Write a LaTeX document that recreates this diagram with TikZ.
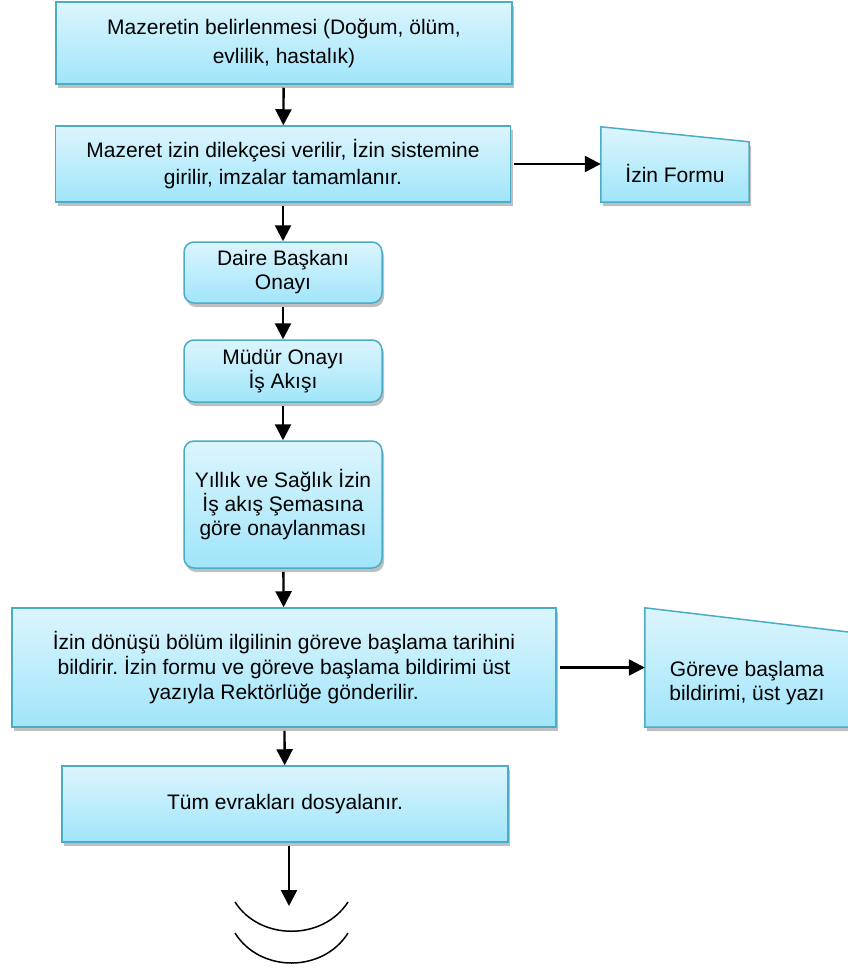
\documentclass[tikz,border=0pt]{standalone}
\usepackage{fontspec}
\setmainfont{Liberation Sans}
\usetikzlibrary{arrows.meta,shadows}

\definecolor{boxtop}{RGB}{220,245,253}
\definecolor{boxbot}{RGB}{160,229,250}
\definecolor{boxline}{RGB}{75,172,198}

\begin{document}
\frenchspacing
\begin{tikzpicture}[x=1pt,y=-1pt,
  shape fill/.style={draw=boxline,line width=1.5pt,top color=boxtop,bottom color=boxbot,
    drop shadow={shadow xshift=2pt,shadow yshift=-4pt,fill=black!50,opacity=0.5}},
  box/.style={shape fill,align=center,inner sep=0pt,font=\fontsize{21}{24}\selectfont},
  rbox/.style={box,rounded corners=10pt},
  txt/.style={align=center,font=\fontsize{21}{24}\selectfont},
  flow/.style={line width=2.4pt,-{Triangle[length=16pt,width=16pt]},shorten <=3pt}]
\useasboundingbox (0,0) rectangle (847,969);

% main column
\node[box,minimum width=456,minimum height=82,font=\fontsize{21}{29}\selectfont] (b1) at (284,43)
  {Mazeretin belirlenmesi (Doğum, ölüm,\\evlilik, hastalık)};
\node[box,minimum width=455,minimum height=76,font=\fontsize{21}{27}\selectfont] (b2) at (283,164)
  {Mazeret izin dilekçesi verilir, İzin sistemine\\girilir, imzalar tamamlanır.};
\node[rbox,minimum width=198,minimum height=61] (b3) at (283,272.5) {Daire Başkanı\\Onayı};
\node[rbox,minimum width=198,minimum height=62] (b4) at (283,371) {Müdür Onayı\\İş Akışı};
\node[rbox,minimum width=198,minimum height=127] (b5) at (283,504.5)
  {Yıllık ve Sağlık İzin\\İş akış Şemasına\\göre onaylanması};
\node[box,minimum width=544,minimum height=119,font=\fontsize{21}{25}\selectfont] (b6) at (284,667.5)
  {İzin dönüşü bölüm ilgilinin göreve başlama tarihini\\bildirir. İzin formu ve göreve başlama bildirimi üst\\yazıyla Rektörlüğe gönderilir.};
\node[box,minimum width=446,minimum height=76] (b7) at (285,804) {Tüm evrakları dosyalanır.};

% documents
\node[minimum width=148,minimum height=75,inner sep=0pt] (form) at (675,164.5) {};
\draw[shape fill] (form.south west) -- (form.north west) -- ([yshift=-15pt]form.north east) -- (form.south east) -- cycle;
\node[txt] (formtxt) at (675,173) {İzin Formu};
\node[minimum width=210,minimum height=119,inner sep=0pt] (start) at (750,667.5) {};
\draw[shape fill] (start.south west) -- (start.north west) -- ([yshift=-25pt]start.north east) -- (start.south east) -- cycle;
\node[txt] (starttxt) at (747,683) {Göreve başlama\\bildirimi, üst yazı};

% connector
\coordinate (stop) at (289,906);
\draw[line width=1.5pt] (235,902) .. controls (260,941) and (323,941) .. (348,902);
\draw[line width=1.5pt] (235,933) .. controls (260,973) and (323,973) .. (348,933);

\draw[flow] (b1) -- (b2);
\draw[flow] (b2) -- (b3);
\draw[flow] (b3) -- (b4);
\draw[flow] (b4) -- (b5);
\draw[flow] (b5) -- (b6);
\draw[flow] (b6) -- (b7);
\draw[flow] (b7.south -| stop) -- (stop);
\draw[flow] (b2.east) -- (b2.east -| form.west);
\draw[flow] (b6.east) -- (b6.east -| start.west);
\end{tikzpicture}
\end{document}
